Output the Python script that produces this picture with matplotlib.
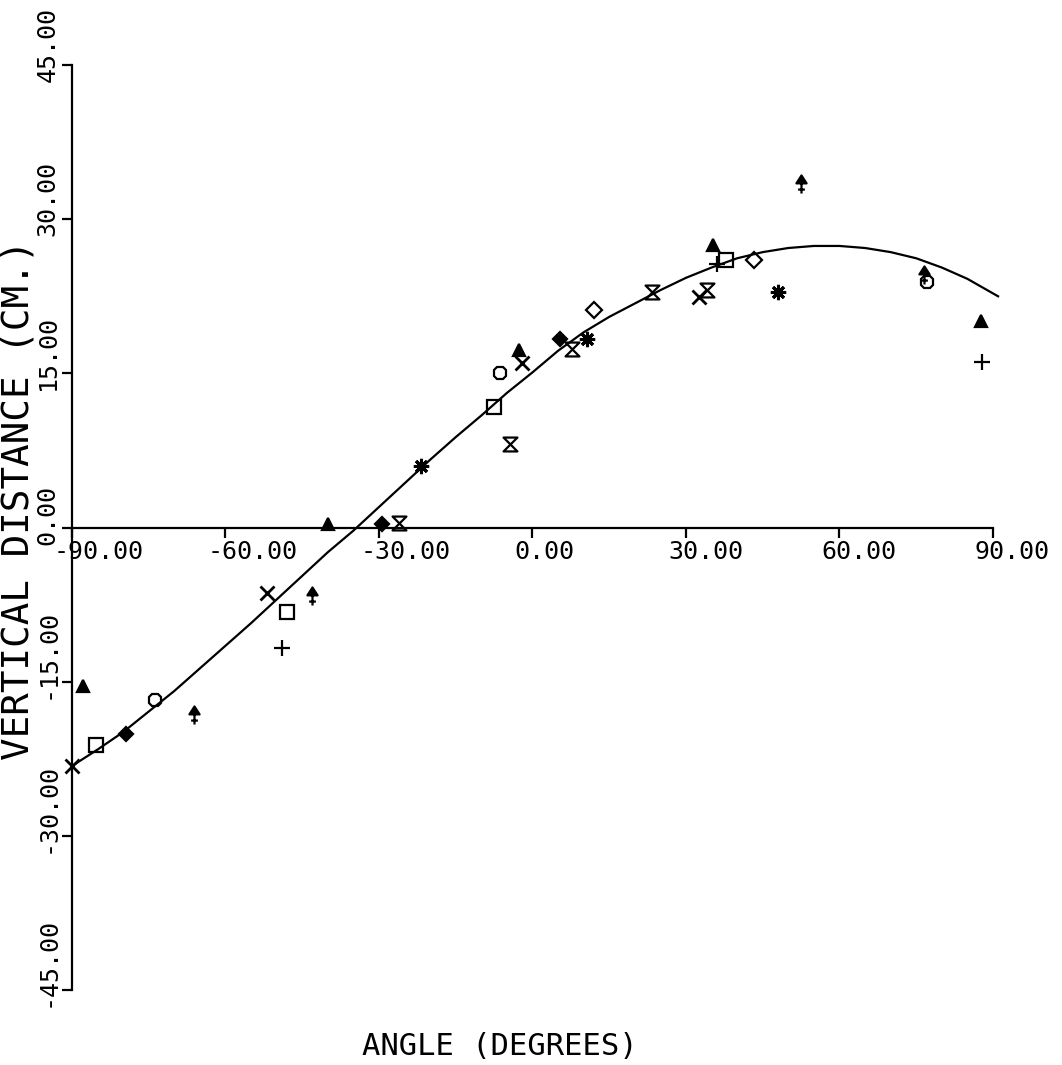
import numpy as np
import matplotlib.pyplot as plt
from matplotlib.path import Path
from matplotlib.transforms import ScaledTranslation

plt.rcParams['font.family'] = 'DejaVu Sans Mono'
plt.rcParams['axes.unicode_minus'] = False

# fitted curve
curve_x = [-90, -85, -80, -75, -70, -65, -60, -55, -50, -45, -40, -35, -30, -25,
           -20, -15, -10, -5, 0, 5, 10, 15, 20, 25, 30, 35, 40, 45, 50, 55, 60,
           65, 70, 75, 80, 85, 91]
curve_y = [-23.2, -21.6, -19.9, -17.9, -15.9, -13.7, -11.5, -9.3, -7.0, -4.7,
           -2.4, -0.3, 2.0, 4.3, 6.6, 8.8, 10.9, 13.1, 15.1, 17.2, 19.0, 20.5,
           21.8, 23.1, 24.3, 25.3, 26.2, 26.8, 27.2, 27.4, 27.4, 27.2, 26.8,
           26.2, 25.3, 24.2, 22.5]

# measured points, one list per plotter symbol
square_x = [-85.4, -47.9, -7.6, 37.9]
square_y = [-21.2, -8.2, 11.7, 26.0]
octagon_x = [-73.8, -6.3, 77.1]
octagon_y = [-16.8, 15.0, 23.9]
triangle_x = [-87.9, -40.0, -2.7, 35.2, 87.7]
triangle_y = [-15.4, 0.3, 17.3, 27.5, 20.1]
plus_x = [-49.0, 36.1, 87.9]
plus_y = [-11.7, 25.6, 16.1]
cross_x = [-90.0, -51.8, -2.1, 32.6]
cross_y = [-23.2, -6.4, 16.0, 22.4]
diamond_x = [-79.5, -29.5, 5.3]
diamond_y = [-20.1, 0.3, 18.3]
open_diamond_x = [12.1, 43.2]
open_diamond_y = [21.2, 26.0]
arrow_x = [-66.2, -43.0, 52.5, 76.6]
arrow_y = [-18.2, -6.7, 33.4, 24.6]
hourglass_x = [-26.0, -4.3, 7.8, 23.4, 34.2]
hourglass_y = [0.4, 8.1, 17.4, 22.9, 23.1]
star_x = [-21.7, 10.7, 47.9]
star_y = [6.0, 18.3, 22.9]

x_ticks = [-90, -60, -30, 0, 30, 60, 90]
y_ticks = [-45, -30, -15, 0, 15, 30, 45]

arrow_marker = Path([(-0.45, 0.1), (0.45, 0.1), (0, 0.8), (-0.45, 0.1),
                     (0, 0.1), (0, -0.8), (-0.3, -0.45), (0.3, -0.45)],
                    [Path.MOVETO, Path.LINETO, Path.LINETO, Path.CLOSEPOLY,
                     Path.MOVETO, Path.LINETO, Path.MOVETO, Path.LINETO])
hourglass_marker = Path([(-0.5, 0.5), (0.5, 0.5), (-0.5, -0.5), (0.5, -0.5), (-0.5, 0.5)],
                        [Path.MOVETO, Path.LINETO, Path.LINETO, Path.LINETO, Path.CLOSEPOLY])

fig = plt.figure(figsize=(10.62, 10.65), dpi=100)
ax = fig.add_axes([0.0678, 0.0704, 0.8672, 0.8685])

ax.plot(curve_x, curve_y, color='black', lw=1.6, clip_on=False)

kw = dict(ls='none', color='black', mew=1.6, clip_on=False, zorder=3)
ax.plot(square_x, square_y, marker='s', ms=10, mfc='none', **kw)
ax.plot(octagon_x, octagon_y, marker='8', ms=10, mfc='none', **kw)
ax.plot(triangle_x, triangle_y, marker='^', ms=9, mfc='black', **kw)
ax.plot(plus_x, plus_y, marker='+', ms=11, **kw)
ax.plot(cross_x, cross_y, marker='x', ms=10, mew=2, ls='none', color='black', clip_on=False, zorder=3)
ax.plot(diamond_x, diamond_y, marker='D', ms=7, mfc='black', **kw)
ax.plot(open_diamond_x, open_diamond_y, marker='D', ms=8, mfc='none', **kw)
ax.plot(arrow_x, arrow_y, marker=arrow_marker, ms=13, mfc='black', **kw)
ax.plot(hourglass_x, hourglass_y, marker=hourglass_marker, ms=10, mfc='none', **kw)
ax.plot(star_x, star_y, marker=(8, 2, 0), ms=11, mew=2.2, ls='none', color='black', clip_on=False, zorder=3)

ax.set_xlim(-90, 90)
ax.set_ylim(-45, 45)
ax.set_xticks(x_ticks)
ax.set_yticks(y_ticks)
ax.set_xticklabels(['%.2f' % v for v in x_ticks])
ax.set_yticklabels(['%.2f' % v for v in y_ticks])

ax.spines['top'].set_visible(False)
ax.spines['right'].set_visible(False)
ax.spines['bottom'].set_position(('data', 0))
ax.spines['left'].set_linewidth(1.6)
ax.spines['bottom'].set_linewidth(1.6)
ax.tick_params(direction='out', length=7, width=1.6, labelsize=18, pad=2)

for lab in ax.get_xticklabels():
    lab.set_ha('left')
    lab.set_transform(lab.get_transform() + ScaledTranslation(-0.18, 0, fig.dpi_scale_trans))
for lab in ax.get_yticklabels():
    lab.set_rotation(90)
    lab.set_va('bottom')
    lab.set_ha('right')
    lab.set_transform(lab.get_transform() + ScaledTranslation(0, -0.17, fig.dpi_scale_trans))

ax.set_xlabel('ANGLE (DEGREES)', fontsize=22)
ax.xaxis.set_label_coords(0.465, -0.045)
ax.set_ylabel('VERTICAL DISTANCE (CM.)', fontsize=27)
ax.yaxis.label.set_va('center')
ax.yaxis.set_label_coords(-0.0585, 0.53)

fig.savefig('out.png', dpi=100)
